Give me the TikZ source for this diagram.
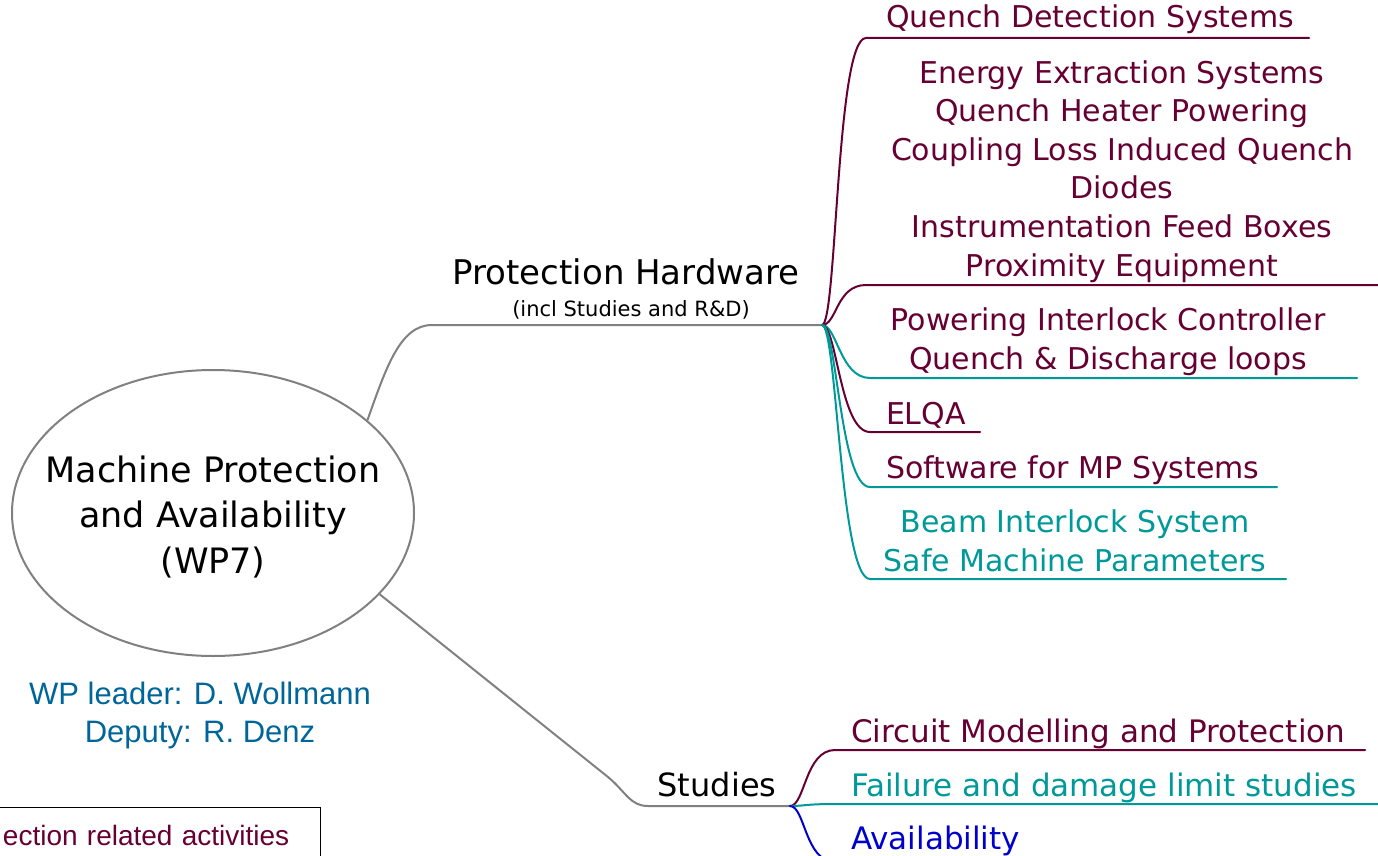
\documentclass[tikz,border=0pt]{standalone}
\usepackage{fontspec}
\setmainfont{DejaVu Sans}
\newfontfamily\arialfont{Liberation Sans}
\usetikzlibrary{shapes.geometric}

\definecolor{mpmaroon}{RGB}{102,0,51}
\definecolor{mpteal}{RGB}{0,153,153}
\definecolor{mpblue}{RGB}{0,0,204}
\definecolor{mpsteel}{RGB}{0,102,153}
\definecolor{mpgrey}{RGB}{128,128,128}

\begin{document}
\begin{tikzpicture}[x=1pt,y=-1pt,line width=2pt,
                    leaf/.style={inner sep=0pt, anchor=base west,
                                 font=\fontsize{30}{38.6}\selectfont},
                    leafgroup/.style={leaf, anchor=base, align=center},
                    topic/.style={inner sep=0pt, anchor=base},
                    twig/.style={draw=#1, line cap=round}]

    \useasboundingbox (0,0) rectangle (1378,856);

    % central topic
    \node[ellipse, draw=mpgrey, minimum width=402, minimum height=286, inner sep=0pt] (wp) at (213,513) {};
    \node[align=center, inner sep=0pt, font=\fontsize{35}{45.5}\selectfont] (wp-text) at (213,517)
          {Machine Protection\\and Availability\\(WP7)};
    \node[topic, align=center, text=mpsteel,
          font=\arialfont\fontsize{31}{38}\selectfont] (lead) at (200,742)
          {WP leader: D. Wollmann\\Deputy: R. Denz};
    \node[draw=black, line width=1.4pt, anchor=north east, text width=290,
          align=right, inner xsep=31, inner ysep=18, text=mpmaroon,
          font=\arialfont\fontsize{28}{34}\selectfont] (legend) at (321,807)
          {ection related activities};

    % main branches
    \node[topic, font=\fontsize{34}{40}\selectfont] (hw) at (626,284) {Protection Hardware};
    \node[topic, font=\fontsize{21}{25}\selectfont] (hw-sub) at (631,316) {(incl Studies and R\&D)};
    \node[topic, font=\fontsize{32}{38}\selectfont] (st) at (717,796) {Studies};
    \coordinate (hw-hub) at (822,325);
    \coordinate (st-hub) at (790,806);

    \draw[mpgrey] (wp.31) .. controls (386,368) and (400,325) .. (432,325) -- (hw-hub);
    \draw[mpgrey] (wp.-26) -- (608,777) .. controls (626,792) and (630,806) .. (648,806) -- (st-hub);

    % hardware leaves
    \node[leaf, text=mpmaroon] (qds) at (885,28) {Quench Detection Systems};
    \node[leafgroup, text=mpmaroon] (ees) at (1122,276)
          {Energy Extraction Systems\\Quench Heater Powering\\Coupling Loss Induced Quench\\Diodes\\Instrumentation Feed Boxes\\Proximity Equipment};
    \node[leafgroup, text=mpmaroon] (pic) at (1108,369)
          {Powering Interlock Controller\\Quench \& Discharge loops};
    \node[leaf, text=mpmaroon] (elqa) at (885,424) {ELQA};
    \node[leaf, text=mpmaroon] (sw) at (885,478) {Software for MP Systems};
    \node[leafgroup, text=mpteal] (bis) at (1075,571)
          {Beam Interlock System\\Safe Machine Parameters};

    \coordinate (qds-l) at (866,38);   \coordinate (qds-r) at (1309,38);
    \coordinate (ees-l) at (866,285);  \coordinate (ees-r) at (1390,285);
    \coordinate (pic-l) at (870,378);  \coordinate (pic-r) at (1357,378);
    \coordinate (elqa-l) at (870,432); \coordinate (elqa-r) at (980,432);
    \coordinate (sw-l) at (870,487);   \coordinate (sw-r) at (1277,487);
    \coordinate (bis-l) at (870,579);  \coordinate (bis-r) at (1286,579);

    \draw[twig=mpmaroon] (hw-hub) .. controls +(15,0) and +(-30,0) .. (qds-l) -- (qds-r);
    \draw[twig=mpmaroon] (hw-hub) .. controls +(15,0) and +(-30,0) .. (ees-l) -- (ees-r);
    \draw[twig=mpteal] (hw-hub) .. controls +(15,0) and +(-30,0) .. (pic-l) -- (pic-r);
    \draw[twig=mpmaroon] (hw-hub) .. controls +(15,0) and +(-30,0) .. (elqa-l) -- (elqa-r);
    \draw[twig=mpteal] (hw-hub) .. controls +(15,0) and +(-30,0) .. (sw-l) -- (sw-r);
    \draw[twig=mpteal] (hw-hub) .. controls +(15,0) and +(-30,0) .. (bis-l) -- (bis-r);

    % studies leaves
    \node[leaf, text=mpmaroon, font=\fontsize{31}{38}\selectfont] (cmp) at (850,742) {Circuit Modelling and Protection};
    \node[leaf, text=mpteal, font=\fontsize{31}{38}\selectfont] (fdl) at (850,796) {Failure and damage limit studies};
    \node[leaf, text=mpblue, font=\fontsize{31}{38}\selectfont] (av) at (850,849) {Availability};

    \coordinate (cmp-l) at (835,750); \coordinate (cmp-r) at (1365,750);
    \coordinate (fdl-l) at (835,804); \coordinate (fdl-r) at (1390,804);
    \coordinate (av-l) at (835,862);  \coordinate (av-r) at (1020,862);

    \draw[twig=mpmaroon] (st-hub) .. controls +(15,0) and +(-30,0) .. (cmp-l) -- (cmp-r);
    \draw[twig=mpteal] (st-hub) .. controls +(15,0) and +(-30,0) .. (fdl-l) -- (fdl-r);
    \draw[twig=mpblue] (st-hub) .. controls +(15,0) and +(-30,0) .. (av-l) -- (av-r);
\end{tikzpicture}
\end{document}
